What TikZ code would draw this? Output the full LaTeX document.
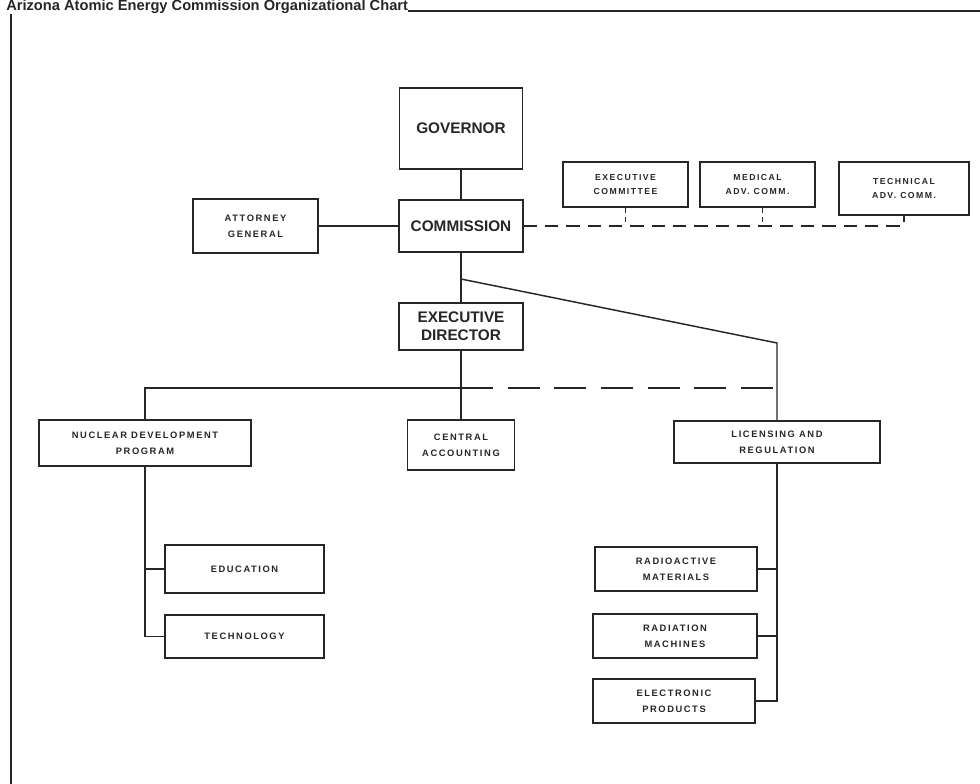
\documentclass[tikz,border=0pt]{standalone}
\usepackage{fontspec}
\setmainfont{Liberation Sans}
\newfontfamily\spc[LetterSpace=17]{Liberation Sans}
\usetikzlibrary{calc}
\definecolor{ink}{HTML}{262626}
\begin{document}
\begin{tikzpicture}[x=0.75pt,y=-0.75pt, color=ink,
  sz/.style 2 args={minimum width={#1*0.75pt}, minimum height={#2*0.75pt}},
  box/.style={draw=ink, line width=1.1pt, inner sep=0pt, align=center, text=ink},
  big/.style={box, font=\fontsize{11.5}{13.5}\selectfont\bfseries},
  sm/.style={box, font=\spc\fontsize{7}{12}\selectfont\bfseries},
  tiny/.style={box, font=\spc\fontsize{6.5}{11}\selectfont\bfseries},
  conn/.style={draw=ink, line width=1.1pt},
  dashA/.style={conn, dash pattern=on 10pt off 6pt},
  dashC/.style={conn, dash pattern=on 4pt off 3pt},
  dashB/.style={conn, dash pattern=on 24pt off 11pt}]
\useasboundingbox (0,0) rectangle (980,784);

% title and frame
\node[anchor=base west, inner sep=0pt, font=\fontsize{11}{13}\selectfont\bfseries] (title) at (6,11) {Arizona Atomic Energy Commission Organizational Chart};
\coordinate (tr) at (982,11);
\draw[conn] (title.base east) -- (title.base east -| tr);
\coordinate (bt) at (11,14);
\coordinate (bb) at (11,786);
\draw[conn] (bt) -- (bb);

% boxes
\node[big, sz={123}{81}] (gov) at (461,128.5) {GOVERNOR};
\node[big, sz={124}{52}] (comm) at (461,226) {COMMISSION};
\node[sm, sz={125}{54}] (att) at (255.5,226) {ATTORNEY\\GENERAL};
\node[big, sz={124}{47}] (exec) at (461,326.5) {EXECUTIVE\\DIRECTOR};
\node[tiny, sz={125}{45}] (ec) at (625.5,184.5) {EXECUTIVE\\COMMITTEE};
\node[tiny, sz={115}{45}] (med) at (757.5,184.5) {MEDICAL\\ADV. COMM.};
\node[tiny, sz={130}{53}] (tech) at (904,188.5) {TECHNICAL\\ADV. COMM.};
\node[sm, sz={212}{46}] (nuc) at (145,443) {NUCLEAR DEVELOPMENT\\PROGRAM};
\node[sm, sz={107}{50}] (cen) at (461,445) {CENTRAL\\ACCOUNTING};
\node[sm, sz={206}{42}] (lic) at (777,442) {LICENSING AND\\REGULATION};
\node[sm, sz={159}{48}] (edu) at (244.5,569) {EDUCATION};
\node[sm, sz={159}{43}] (techn) at (244.5,636.5) {TECHNOLOGY};
\node[sm, sz={162}{44}] (rad) at (676,569) {RADIOACTIVE\\MATERIALS};
\node[sm, sz={164}{44}] (radm) at (675,636) {RADIATION\\MACHINES};
\node[sm, sz={162}{44}] (elec) at (674,701) {ELECTRONIC\\PRODUCTS};

% solid connectors
\draw[conn] (gov.south) -- (comm.north);
\draw[conn] (att.east) -- (comm.west);
\draw[conn] (comm.south) -- (exec.north);
\coordinate (d1) at (461,279);
\coordinate (d2) at (777,343);
\draw[conn] (d1) -- (d2) -- (lic.north);
\draw[conn] (exec.south) -- (cen.north);
\coordinate (bus) at (461,388);
\draw[conn] (nuc.north) |- (bus);
\draw[conn] (nuc.south) |- (techn.west);
\draw[conn] (nuc.south |- edu.west) -- (edu.west);
\draw[conn] (lic.south) |- (elec.east);
\draw[conn] (rad.east) -- (rad.east -| lic.south);
\draw[conn] (radm.east) -- (radm.east -| lic.south);

% dashed connectors
\draw[dashB] (bus) -- (bus -| lic.north);
\draw[dashA] (comm.east) -- (comm.east -| tech.south) -- (tech.south);
\draw[dashC] (ec.south) -- (ec.south |- comm.east);
\coordinate (mt) at ($(med.south)+(5,0)$);
\draw[dashC] (mt) -- (mt |- comm.east);
\end{tikzpicture}
\end{document}
